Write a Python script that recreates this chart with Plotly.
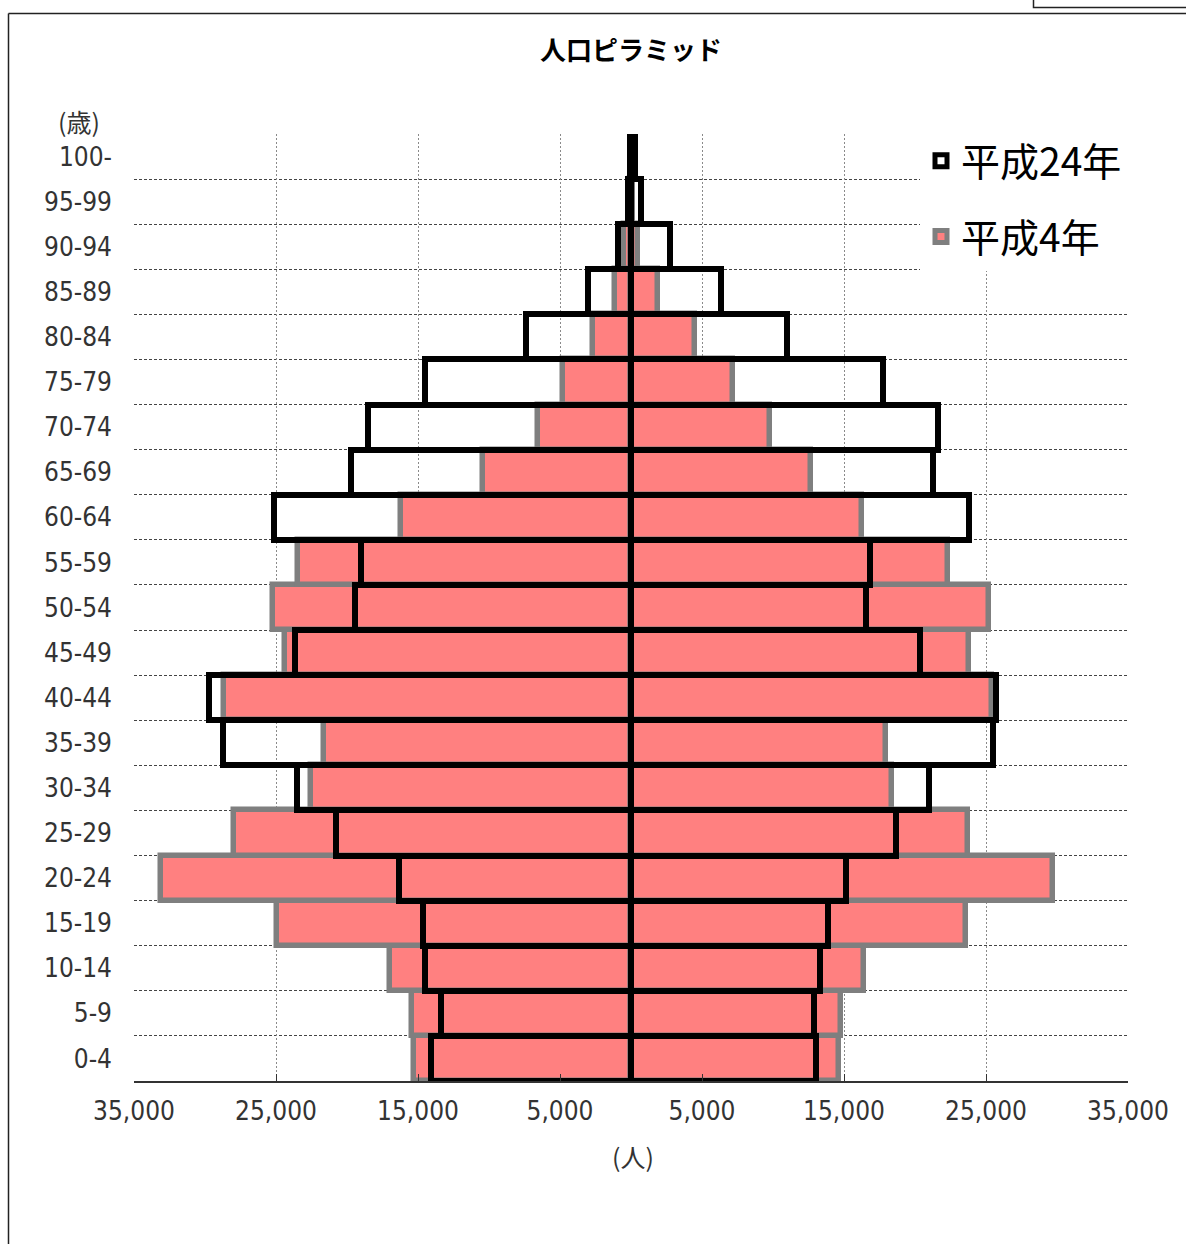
import plotly.graph_objects as go

# ---------------- data ----------------
age_labels = ["0-4", "5-9", "10-14", "15-19", "20-24", "25-29", "30-34", "35-39",
              "40-44", "45-49", "50-54", "55-59", "60-64", "65-69", "70-74",
              "75-79", "80-84", "85-89", "90-94", "95-99", "100-"]

# 平成24年 (left side / right side)
h24_left = [14060, 13360, 14540, 14660, 16350, 20800, 23500, 28720, 29720, 23650,
            19420, 18980, 25120, 19700, 18520, 14520, 7380, 3030, 920, 200, 100]
h24_right = [13050, 12870, 13290, 13860, 15170, 18680, 20980, 25470, 25700, 20360,
             16580, 16830, 23800, 21240, 21620, 17760, 11020, 6350, 2750, 700, 250]

# 平成4年 (left side / right side)
h4_left = [15260, 15400, 16940, 24940, 33080, 27980, 22560, 21620, 28650, 24380,
           25200, 23480, 16200, 10420, 6560, 4820, 2680, 1100, 500, 80, 0]
h4_right = [14620, 14770, 16380, 23580, 29690, 23700, 18380, 17960, 25450, 23800,
            25210, 22290, 16280, 12680, 9810, 7180, 4540, 1880, 520, 150, 0]

x_tick_vals = [-35000, -25000, -15000, -5000, 5000, 15000, 25000, 35000]
x_tick_text = ["35,000", "25,000", "15,000", "5,000", "5,000", "15,000", "25,000", "35,000"]

title_text = "人口ピラミッド"
name_h24 = "平成24年"
name_h4 = "平成4年"
y_unit = "(歳)"
x_unit = "(人)"

# ---------------- layout geometry ----------------
W, H = 1186, 1244
PL, PR, PT, PB = 134, 1128, 134, 1081.5   # plot area in pixels


def px(x):
    return (x - PL) / (PR - PL)


def py(y):
    return (PB - y) / (PB - PT)


ypos = list(range(len(age_labels)))
num_font = "Liberation Sans Narrow, DejaVu Sans Condensed, Arial Narrow, sans-serif"
jp_font = "Noto Sans CJK JP, sans-serif"

PINK = "#FF8080"
GRAY = "#7F7F7F"

fig = go.Figure()

# 平成4年: pink bars with gray outline
for side, vals in (("L", h4_left), ("R", h4_right)):
    xs = [-v for v in vals] if side == "L" else list(vals)
    fig.add_trace(go.Bar(
        x=xs, y=ypos, orientation="h", width=1,
        marker=dict(color=PINK, line=dict(color=GRAY, width=5.5)),
        name=name_h4, legendgroup="h4", legendrank=2, showlegend=(side == "R"),
    ))

# 平成24年: outline only (black), drawn on top
for side, vals in (("L", h24_left), ("R", h24_right)):
    xs = [-v for v in vals] if side == "L" else list(vals)
    fig.add_trace(go.Bar(
        x=xs, y=ypos, orientation="h", width=1,
        marker=dict(color="rgba(255,255,255,0)", line=dict(color="black", width=6)),
        name=name_h24, legendgroup="h24", legendrank=1, showlegend=(side == "R"),
    ))

fig.update_layout(
    width=W, height=H,
    margin=dict(l=PL, r=W - PR, t=PT, b=H - PB),
    paper_bgcolor="white", plot_bgcolor="white",
    barmode="overlay", bargap=0,
    title=dict(text="<b>" + title_text + "</b>", x=px(631), xref="paper",
               xanchor="center", y=1 - 51 / H, yref="container", yanchor="middle",
               font=dict(family=jp_font, size=26, color="black")),
    showlegend=True,
    legend=dict(x=px(921), y=py(129), xanchor="left", yanchor="top",
                traceorder="grouped", tracegroupgap=22,
                bgcolor="white", borderwidth=0,
                font=dict(family=jp_font, size=39, color="black")),
    xaxis=dict(range=[-35000, 35000], tickmode="array", tickvals=x_tick_vals,
               ticktext=x_tick_text, showgrid=True, gridcolor="#8a8a8a",
               griddash="2px,2px", gridwidth=1, zeroline=False,
               showline=True, linecolor="#333", linewidth=1.5,
               ticks="inside", ticklen=7, tickcolor="#333",
               tickfont=dict(family=num_font, size=26, color="#333"),
               ticklabelstandoff=6, fixedrange=True),
    yaxis=dict(range=[-0.5, len(age_labels) - 0.5], tickmode="array", tickvals=ypos,
               ticktext=age_labels, showgrid=False, zeroline=False, showline=False,
               ticks="", tickfont=dict(family=num_font, size=26, color="#333"),
               ticklabelstandoff=21,
               minor=dict(tickmode="array", tickvals=[i + 0.5 for i in ypos[:-1]],
                          showgrid=True, gridcolor="#444", gridwidth=1,
                          griddash="3px,2px", ticks=""),
               fixedrange=True),
)

# white panel behind legend (hides gridlines there)
fig.add_shape(type="rect", xref="paper", yref="paper",
              x0=px(920), x1=px(1140), y0=py(271), y1=py(136),
              fillcolor="white", line=dict(width=0), layer="above")

# outer frame lines and the neighbouring cell at top-right
frame = dict(color="#222", width=1.5)
fig.add_shape(type="line", xref="paper", yref="paper", x0=px(8.5), x1=px(8.5),
              y0=py(H + 5), y1=py(13.5), line=frame)
fig.add_shape(type="line", xref="paper", yref="paper", x0=px(8.5), x1=px(W + 5),
              y0=py(13.5), y1=py(13.5), line=frame)
fig.add_shape(type="rect", xref="paper", yref="paper", x0=px(1033.5), x1=px(W + 5),
              y0=py(7.5), y1=py(-5), line=frame, fillcolor="rgba(0,0,0,0)")

# axis unit labels
fig.add_annotation(text=y_unit, xref="paper", yref="paper", x=px(79), y=py(121),
                   showarrow=False, xanchor="center", yanchor="middle",
                   font=dict(family=jp_font, size=25, color="#333"))
fig.add_annotation(text=x_unit, xref="paper", yref="paper", x=px(633), y=py(1157),
                   showarrow=False, xanchor="center", yanchor="middle",
                   font=dict(family=jp_font, size=25, color="#333"))

fig.write_html("out.html")
